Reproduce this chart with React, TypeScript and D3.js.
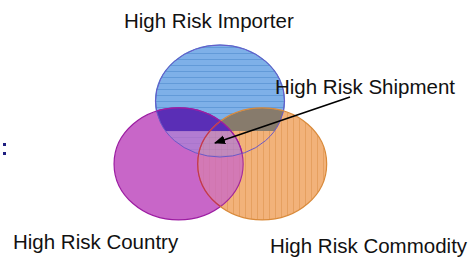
import React from 'react';
import * as d3 from 'd3';

// Venn sets: label, and centre in unit coordinates of the diagram
const setNames = ['High Risk Importer', 'High Risk Country', 'High Risk Commodity'];
const setCx = [0.5, 0.22, 0.785];
const setCy = [0.228, 0.78, 0.78];
const setFill = ['#7eb0e8', '#c866c8', '#f2b27a'];
const setStroke = ['#4a86d2', '#9c1ca2', '#d98a3a'];
const intersectionLabel = 'High Risk Shipment';

const W = 471;
const H = 257;
const RX = 64.5;
const RY = 56;

const App = () => {
  // map unit coords to pixels
  const x = d3.scaleLinear().domain([0, 1]).range([146, 294]);
  const y = d3.scaleLinear().domain([0, 1]).range([75, 189]);

  const ell = (i: number) => ({ cx: x(setCx[i]), cy: y(setCy[i]), rx: RX, ry: RY });
  const [imp, cty, com] = [0, 1, 2].map(ell);
  const bandY = 131;

  return (
    <svg width={W} height={H} style={{ position: 'absolute', left: 0, top: 0, background: '#fff' }}
      fontFamily="'Liberation Sans', Arial, sans-serif">
      <defs>
        <pattern id="hstripe" width="6" height="6" patternUnits="userSpaceOnUse">
          <rect width="6" height="6" fill={setFill[0]} />
          <line x1="0" y1="5.5" x2="6" y2="5.5" stroke="#629ad8" strokeWidth="1" />
        </pattern>
        <pattern id="vstripe" width="6" height="6" patternUnits="userSpaceOnUse">
          <rect width="6" height="6" fill={setFill[2]} />
          <line x1="5.5" y1="0" x2="5.5" y2="6" stroke="#e6a060" strokeWidth="1" />
        </pattern>
        <clipPath id="clipImp"><ellipse {...imp} /></clipPath>
        <clipPath id="clipCty"><ellipse {...cty} /></clipPath>
        <clipPath id="clipCom"><ellipse {...com} /></clipPath>
        <clipPath id="clipTop"><rect x="0" y="0" width={W} height={bandY} /></clipPath>
        <clipPath id="clipBot"><rect x="0" y={bandY} width={W} height={H - bandY} /></clipPath>
        <marker id="arrow" viewBox="0 0 10 10" refX="9" refY="5" markerWidth="7" markerHeight="7" orient="auto">
          <path d="M0,1 L10,5 L0,9 Z" fill="#000" />
        </marker>
      </defs>

      {/* importer */}
      <ellipse {...imp} fill="url(#hstripe)" stroke={setStroke[0]} strokeWidth="1.2" />
      {/* commodity */}
      <ellipse {...com} fill="url(#vstripe)" />
      {/* importer ∩ commodity, upper band */}
      <g clipPath="url(#clipTop)">
        <g clipPath="url(#clipImp)">
          <ellipse {...com} fill="#877b6c" />
        </g>
      </g>
      {/* country on top */}
      <ellipse {...cty} fill={setFill[1]} stroke={setStroke[1]} strokeWidth="1.2" />
      {/* importer ∩ country, upper band */}
      <g clipPath="url(#clipTop)">
        <g clipPath="url(#clipImp)">
          <ellipse {...cty} fill="#5a2eb6" />
        </g>
      </g>
      {/* faint importer stripes through country, lower part */}
      <g clipPath="url(#clipBot)">
        <g clipPath="url(#clipCty)" opacity="0.3">
          <ellipse {...imp} fill="url(#hstripe)" />
        </g>
      </g>
      {/* faint commodity stripes through country */}
      <g clipPath="url(#clipBot)">
        <g clipPath="url(#clipCty)" opacity="0.25">
          <ellipse {...com} fill="url(#vstripe)" />
        </g>
      </g>
      {/* outlines visible on top */}
      <ellipse {...imp} fill="none" stroke="#6a58c8" strokeWidth="1" />
      <ellipse {...com} fill="none" stroke={setStroke[2]} strokeWidth="1.2" />
      <g clipPath="url(#clipImp)">
        <ellipse {...cty} fill="none" stroke={setStroke[1]} strokeWidth="1.2" />
      </g>
      <g clipPath="url(#clipCty)">
        <ellipse {...com} fill="none" stroke="#c0305a" strokeWidth="1.2" />
      </g>

      {/* labels */}
      <text x={124} y={28} fontSize="20.5" fill="#111">{setNames[0]}</text>
      <text x={13} y={249} fontSize="20.5" fill="#111">{setNames[1]}</text>
      <text x={270} y={253} fontSize="20.5" fill="#111">{setNames[2]}</text>
      <text x={275} y={94} fontSize="20.5" fill="#111">{intersectionLabel}</text>

      {/* arrow to triple intersection */}
      <line x1={350} y1={97} x2={215} y2={143} stroke="#000" strokeWidth="1.6" markerEnd="url(#arrow)" />

      {/* stray colon */}
      <rect x={3} y={143} width={3} height={3} fill="#1e1e80" />
      <rect x={3} y={152} width={3} height={3} fill="#1e1e80" />
    </svg>
  );
};

export default App;
